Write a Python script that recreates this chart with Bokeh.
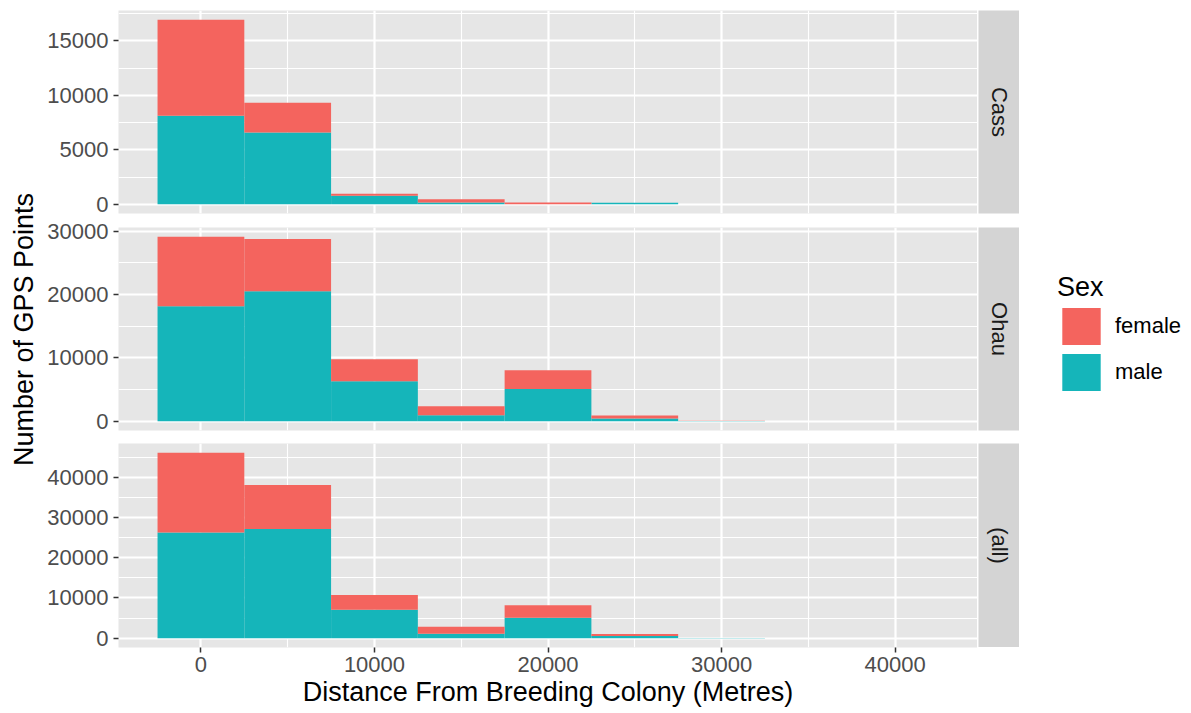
import math
from bokeh.plotting import figure
from bokeh.models import (Range1d, FixedTicker, ColumnDataSource, Label, Legend,
                          LegendItem, NumeralTickFormatter)
from bokeh.layouts import row, column
from bokeh.embed import file_html
from bokeh.resources import INLINE

# ---------------- data ----------------
bin_centers = [0, 5000, 10000, 15000, 20000, 25000, 30000, 35000, 40000]
bin_width = 5000
facets = ["Cass", "Ohau", "(all)"]
sexes = ["female", "male"]

cass_female = [8820, 2740, 190, 280, 150, 0, 0, 0, 0]
cass_male = [8130, 6590, 780, 170, 10, 150, 0, 0, 0]
ohau_female = [10960, 8210, 3490, 1430, 2970, 470, 30, 0, 0]
ohau_male = [18140, 20520, 6300, 950, 5080, 430, 40, 0, 0]
all_female = [19780, 10950, 3680, 1710, 3120, 470, 30, 0, 0]
all_male = [26270, 27110, 7080, 1120, 5090, 580, 40, 0, 0]

x_ticks = [0, 10000, 20000, 30000, 40000]
x_minor = [5000, 15000, 25000, 35000]
cass_ticks = [0, 5000, 10000, 15000]
cass_minor = [2500, 7500, 12500, 17500]
ohau_ticks = [0, 10000, 20000, 30000]
ohau_minor = [5000, 15000, 25000]
all_ticks = [0, 10000, 20000, 30000, 40000]
all_minor = [5000, 15000, 25000, 35000, 45000]

x_title = "Distance From Breeding Colony (Metres)"
y_title = "Number of GPS Points"
legend_title = "Sex"

# ---------------- style ----------------
FEMALE = "#F4645E"
MALE = "#15B5BA"
PANEL_BG = "#E6E6E6"
STRIP_BG = "#D4D4D4"
FONT = "Liberation Sans"
TICK_FS = "22px"
TITLE_FS = "27px"

x_lo = bin_centers[0] - bin_width / 2
x_hi = bin_centers[-1] + bin_width / 2
x_pad = 0.05 * (x_hi - x_lo)
x_range = Range1d(x_lo - x_pad, x_hi + x_pad)

FRAME_W = 859
TITLE_W = 40


def style_axis(ax):
    ax.axis_line_color = None
    ax.major_tick_in = 0
    ax.major_tick_out = 5
    ax.major_tick_line_color = "#333333"
    ax.major_tick_line_width = 1.5
    ax.minor_tick_line_color = None
    ax.major_label_text_font = FONT
    ax.major_label_text_font_size = TICK_FS
    ax.major_label_text_color = "#4D4D4D"
    ax.major_label_standoff = 5
    ax.axis_label_text_font = FONT
    ax.axis_label_text_font_size = TITLE_FS
    ax.axis_label_text_font_style = "normal"
    ax.axis_label_text_color = "black"


def bare_figure(**kw):
    f = figure(output_backend="svg", toolbar_location=None,
               x_axis_location=None, y_axis_location=None,
               min_border_left=0, min_border_right=0,
               outline_line_color=None,
               border_fill_color="white", **kw)
    f.center = []
    return f


def make_panel(female, male, yticks, yminor, top_border, frame_h, bottom_border,
               show_x):
    src = ColumnDataSource(dict(x=bin_centers, male=male, female=female))
    ymax = max(m + f for m, f in zip(male, female))
    p = figure(frame_width=FRAME_W, frame_height=frame_h,
               x_range=x_range, y_range=Range1d(-0.05 * ymax, 1.05 * ymax),
               output_backend="svg", toolbar_location=None,
               x_axis_location="below" if show_x else None,
               min_border_left=118 - TITLE_W, min_border_right=0,
               min_border_top=top_border, min_border_bottom=bottom_border,
               background_fill_color=PANEL_BG, border_fill_color="white",
               outline_line_color=None)
    yt = FixedTicker(ticks=yticks, minor_ticks=yminor)
    xt = FixedTicker(ticks=x_ticks, minor_ticks=x_minor)
    p.yaxis.ticker = yt
    p.yaxis.formatter = NumeralTickFormatter(format="0")
    style_axis(p.yaxis[0])
    if show_x:
        p.xaxis.ticker = xt
        p.xaxis.formatter = NumeralTickFormatter(format="0")
        style_axis(p.xaxis[0])
        p.xaxis.major_label_standoff = 4
        p.xaxis.axis_label = x_title
        p.xaxis.axis_label_standoff = 2
    p.xgrid.ticker = xt
    p.ygrid.ticker = yt
    for g in (p.xgrid, p.ygrid):
        g.grid_line_color = "white"
        g.grid_line_width = 2.2
        g.minor_grid_line_color = "white"
        g.minor_grid_line_width = 1.1
    p.vbar_stack(["male", "female"], x="x", width=bin_width, source=src,
                 fill_color=[MALE, FEMALE], line_color=None)
    return p


def make_strip(text, top_border, frame_h, bottom_border):
    s = bare_figure(frame_width=41, frame_height=frame_h,
                    x_range=Range1d(0, 1), y_range=Range1d(0, 1),
                    min_border_top=top_border, min_border_bottom=bottom_border,
                    background_fill_color=STRIP_BG)
    s.add_layout(Label(x=0.5, y=0.5, text=text, angle=-math.pi / 2,
                       text_align="center", text_baseline="middle",
                       text_font=FONT, text_font_size=TICK_FS,
                       text_color="#1A1A1A"))
    return s


# ---------------- y title column ----------------
yt_fig = bare_figure(frame_width=TITLE_W, frame_height=713,
                     x_range=Range1d(0, TITLE_W), y_range=Range1d(0, 713),
                     min_border_top=0, min_border_bottom=0,
                     background_fill_color="white")
yt_fig.add_layout(Label(x=23, y=713 - 329, text=y_title, angle=math.pi / 2,
                        text_align="center", text_baseline="middle",
                        text_font=FONT, text_font_size=TITLE_FS,
                        text_color="black"))

# panel frames: 10-213, 227-430, 443-647 (borders split the gaps between rows)
p1 = make_panel(cass_female, cass_male, cass_ticks, cass_minor, 10, 203, 7, False)
p2 = make_panel(ohau_female, ohau_male, ohau_ticks, ohau_minor, 7, 203, 6, False)
p3 = make_panel(all_female, all_male, all_ticks, all_minor, 7, 204, 66, True)

s1 = make_strip(facets[0], 10, 203, 7)
s2 = make_strip(facets[1], 7, 203, 6)
s3 = make_strip(facets[2], 7, 204, 0)

# ---------------- legend ----------------
lg = bare_figure(frame_width=172, frame_height=713,
                 x_range=Range1d(0, 1), y_range=Range1d(0, 1),
                 min_border_top=0, min_border_bottom=0,
                 background_fill_color="white")
proxy = ColumnDataSource(dict(x=[-50], male=[-100], female=[-100]))
rs = lg.vbar_stack(["male", "female"], x="x", width=1, source=proxy,
                   fill_color=[MALE, FEMALE], line_color=None)
legend = Legend(items=[LegendItem(label=sexes[0], renderers=[rs[1]]),
                       LegendItem(label=sexes[1], renderers=[rs[0]])],
                location=(38, 318), title=legend_title,
                title_text_font=FONT, title_text_font_size=TITLE_FS,
                title_text_font_style="normal", title_text_color="black",
                title_standoff=0,
                label_text_font=FONT, label_text_font_size=TICK_FS,
                label_text_color="black", label_standoff=10,
                glyph_width=48, glyph_height=46, spacing=0,
                padding=0, margin=0, border_line_color=None,
                background_fill_alpha=0)
lg.add_layout(legend)

left = column(row(p1, s1, spacing=1), row(p2, s2, spacing=1),
              row(p3, s3, spacing=1), spacing=0)
layout = row(yt_fig, left, lg, spacing=0)

open("out.html", "w").write(file_html(layout, INLINE))
